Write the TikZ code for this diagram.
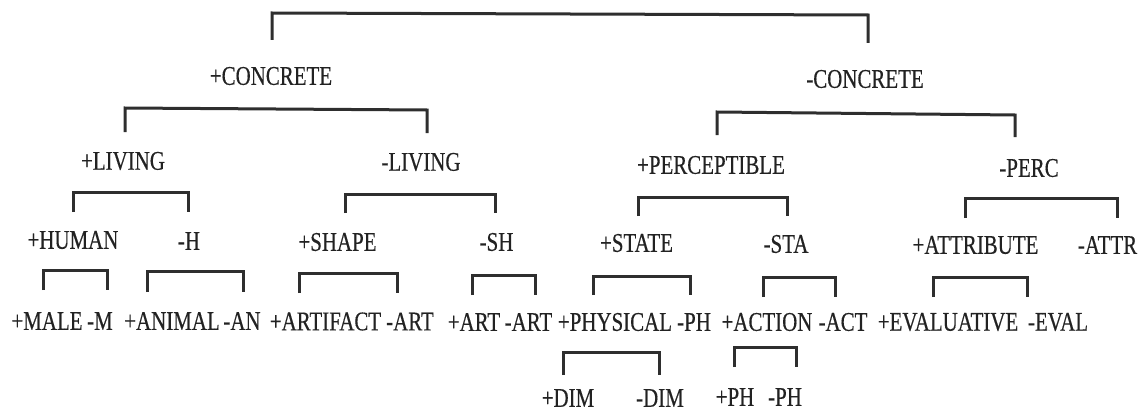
\documentclass[tikz,border=0pt]{standalone}
\usepackage{fontspec}
\setmainfont{Liberation Serif}[FakeStretch=0.775, FakeBold=0.4]
\definecolor{ink}{HTML}{222222}
\definecolor{rule}{HTML}{2E2E2E}
\tikzset{
  lbl/.style={inner sep=0pt, text=ink, font=\fontsize{27}{31}\selectfont},
  bracket/.style={draw=rule, line width=3pt, line cap=butt, line join=miter}
}
% a bracket: name, left x, left foot y, right x, right foot y, bar y left, bar y right
\newcommand\featbracket[7]{%
  \coordinate (#1-lb) at (#2,#3);
  \coordinate (#1-lt) at (#2,#6);
  \coordinate (#1-rt) at (#4,#7);
  \coordinate (#1-rb) at (#4,#5);
  \draw[bracket] (#1-lb) -- (#1-lt) -- (#1-rt) -- (#1-rb);}
\begin{document}
\begin{tikzpicture}[x=1pt, y=-1pt]
\useasboundingbox (0,0) rectangle (1148,412);

% level 1
\node[lbl] (concP) at (271,76) {+CONCRETE};
\node[lbl] (concM) at (865,79) {-CONCRETE};
% level 2
\node[lbl] (livP) at (123,161) {+LIVING};
\node[lbl] (livM) at (421,162) {-LIVING};
\node[lbl] (percP) at (711,165) {+PERCEPTIBLE};
\node[lbl] (percM) at (1029,168) {-PERC};
% level 3
\node[lbl] (humP) at (73,240) {+HUMAN};
\node[lbl] (humM) at (189,241) {-H};
\node[lbl] (shpP) at (337.5,242) {+SHAPE};
\node[lbl] (shpM) at (496.5,242) {-SH};
\node[lbl] (staP) at (636.5,243) {+STATE};
\node[lbl] (staM) at (786,244) {-STA};
\node[lbl] (attP) at (975.5,245) {+ATTRIBUTE};
\node[lbl] (attM) at (1107.5,245) {-ATTR};
% level 4
\node[lbl] (malP) at (47,321) {+MALE};
\node[lbl] (malM) at (100,321) {-M};
\node[lbl] (aniP) at (172,321) {+ANIMAL};
\node[lbl] (aniM) at (242,321) {-AN};
\node[lbl] (artfP) at (325.5,321.5) {+ARTIFACT};
\node[lbl] (artfM) at (410,321.5) {-ART};
\node[lbl] (artP) at (474,322) {+ART};
\node[lbl] (artM) at (528.5,322) {-ART};
\node[lbl] (phyP) at (615,322) {+PHYSICAL};
\node[lbl] (phyM) at (694,322) {-PH};
\node[lbl] (actP) at (767,322) {+ACTION};
\node[lbl] (actM) at (843,322) {-ACT};
\node[lbl] (evaP) at (948,322) {+EVALUATIVE};
\node[lbl] (evaM) at (1058,322) {-EVAL};
% level 5
\node[lbl] (dimP) at (568,398) {+DIM};
\node[lbl] (dimM) at (660,398) {-DIM};
\node[lbl] (phP) at (735,397) {+PH};
\node[lbl] (phM) at (785,397) {-PH};

% brackets joining each pair of daughters
\featbracket{root}{272}{40}{868}{43}{13}{15}
\featbracket{conc}{125}{132}{427}{133}{108}{110}
\featbracket{nconc}{717}{135}{1015}{137}{112}{115}
\featbracket{liv}{73}{212}{188}{212}{192}{192}
\featbracket{nliv}{345}{213}{495}{213}{194}{194}
\featbracket{perc}{638}{216}{787}{216}{197}{197}
\featbracket{nperc}{965}{218}{1117}{218}{198}{198}
\featbracket{hum}{43}{290}{107}{290}{270}{270}
\featbracket{nhum}{147}{292}{243}{292}{271}{271}
\featbracket{shp}{299}{293}{397}{293}{273}{273}
\featbracket{nshp}{472}{295}{535}{295}{275}{275}
\featbracket{sta}{593}{295}{690}{295}{276}{276}
\featbracket{nsta}{763}{297}{835}{297}{277}{277}
\featbracket{att}{933}{297}{1027}{297}{277}{277}
\featbracket{phy}{563}{375}{659}{375}{352}{352}
\featbracket{act}{734}{367}{796}{367}{347}{347}
\end{tikzpicture}
\end{document}
